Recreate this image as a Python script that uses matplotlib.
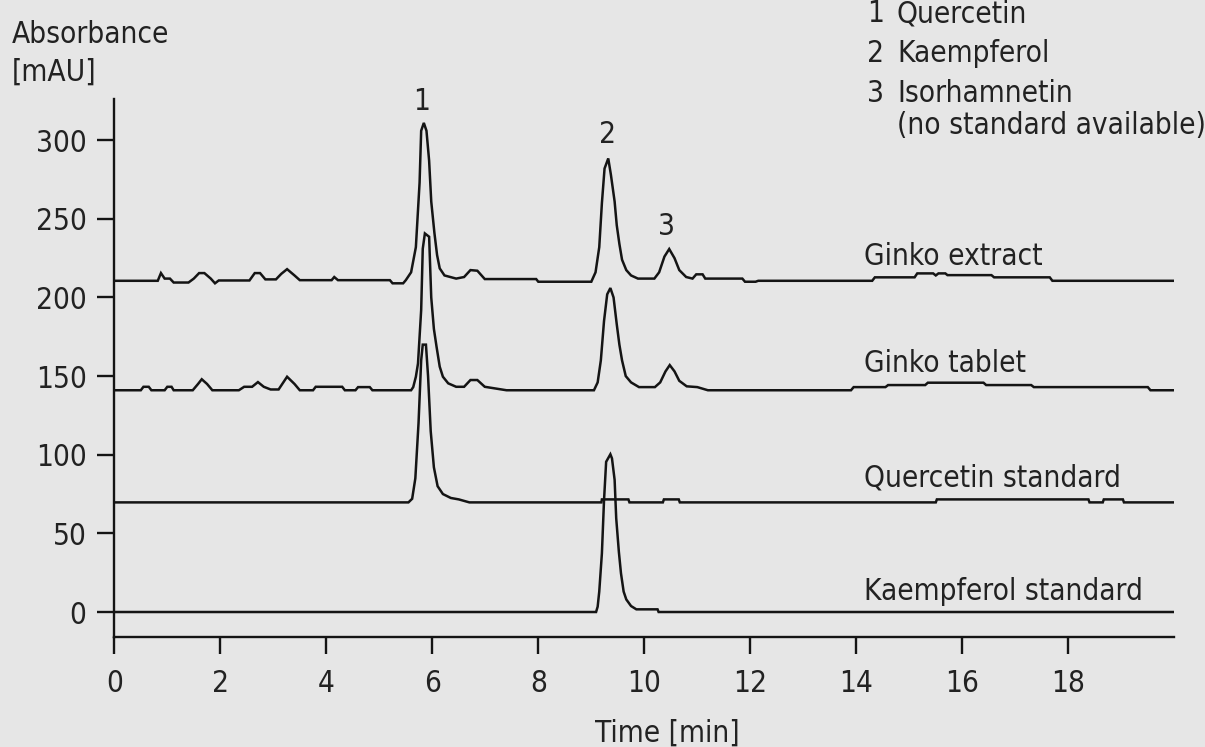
import matplotlib
matplotlib.use("Agg")
import matplotlib.pyplot as plt
from matplotlib import font_manager

# ---------------- data ----------------
ext_t = [0.0, 0.82, 0.88, 0.95, 1.05, 1.12, 1.40, 1.5, 1.6, 1.7, 1.82, 1.9, 1.97, 2.55, 2.65, 2.75,
         2.85, 3.05, 3.15, 3.26, 3.4, 3.5, 4.1, 4.15, 4.22, 5.2, 5.25, 5.45, 5.5, 5.6, 5.69, 5.76,
         5.79, 5.84, 5.89, 5.94, 5.98, 6.04, 6.09, 6.14, 6.23, 6.45, 6.6, 6.72, 6.85, 6.99, 7.96,
         8.0, 9.0, 9.08, 9.15, 9.2, 9.25, 9.32, 9.37, 9.44, 9.48, 9.53, 9.58, 9.66, 9.75, 9.88,
         10.19, 10.28, 10.38, 10.47, 10.57, 10.66, 10.79, 10.91, 10.98, 11.1, 11.15, 11.85, 11.9,
         12.1, 12.15, 14.3, 14.35, 15.1, 15.15, 15.45, 15.5, 15.55, 15.68, 15.72, 16.55, 16.6,
         17.65, 17.7, 20.0]
ext_v = [210.6, 210.6, 215.5, 212, 212, 209.5, 209.5, 212, 215.5, 215.5, 212, 209, 210.8, 210.8, 215.5, 215.5,
         211.5, 211.5, 215, 218, 214, 211, 211, 213, 211, 211, 209, 209, 211, 216, 232, 273,
         306, 311, 306, 287, 261, 241, 227, 218.5, 214, 212, 213, 217.4, 217, 211.7, 211.7,
         210, 210, 216, 232, 260, 282, 288.4, 278, 261, 246, 234, 224, 217.4, 214, 212,
         212, 216, 226, 230.8, 225, 217.4, 213, 212, 214.7, 214.7, 212, 212, 210,
         210, 210.6, 210.6, 212.8, 212.8, 215.3, 215.3, 214, 215.3, 215.3, 214.2, 214.2, 212.8,
         212.8, 210.6, 210.6]

tab_t = [0.0, 0.5, 0.55, 0.65, 0.7, 0.95, 1.0, 1.08, 1.12, 1.48, 1.58, 1.65, 1.75, 1.85, 2.35, 2.45,
         2.6, 2.71, 2.82, 2.95, 3.1, 3.26, 3.4, 3.5, 3.75, 3.8, 4.3, 4.35, 4.55, 4.6, 4.82, 4.87,
         5.6, 5.64, 5.69, 5.73, 5.79, 5.82, 5.86, 5.94, 5.98, 6.03, 6.08, 6.14, 6.2, 6.3, 6.45,
         6.6, 6.72, 6.85, 6.99, 7.4, 9.05, 9.12, 9.18, 9.24, 9.3, 9.36, 9.42, 9.48, 9.53, 9.58,
         9.65, 9.75, 9.9, 10.2, 10.3, 10.4, 10.48, 10.57, 10.66, 10.8, 11.0, 11.2, 13.9, 13.95,
         14.55, 14.6, 15.3, 15.35, 16.4, 16.45, 17.3, 17.35, 19.5, 19.55, 20.0]
tab_v = [141, 141, 143.2, 143.2, 141, 141, 143.2, 143.2, 141, 141, 145, 148, 145, 141, 141, 143.2,
         143.2, 146.2, 143.2, 141.5, 141.5, 149.6, 145, 141, 141, 143.2, 143.2, 141, 141, 143, 143, 141,
         141, 143, 149.6, 158, 192, 231, 240.7, 238.6, 200, 180, 168.7, 156, 149.6, 145.4, 143.2,
         143.2, 147.5, 147.5, 143.2, 141, 141, 146, 160, 185, 202, 206, 200, 183, 170, 160,
         150, 146, 143, 143, 146, 153, 157, 153, 147, 143.5, 143, 141, 141, 143,
         143, 144.3, 144.3, 145.8, 145.8, 144.3, 144.3, 143, 143, 141, 141]

qst_t = [0.0, 5.55, 5.62, 5.68, 5.74, 5.79, 5.82, 5.88, 5.92, 5.97, 6.03, 6.1, 6.2, 6.35, 6.5, 6.7,
         9.19, 9.2, 9.7, 9.72, 10.35, 10.37, 10.65, 10.67, 15.5, 15.52, 18.38, 18.4, 18.65, 18.67,
         19.03, 19.05, 20.0]
qst_v = [69.7, 69.7, 72, 85, 120, 160, 170, 170, 150, 115, 92, 80, 75, 72.5, 71.6, 69.7,
         69.7, 71.6, 71.6, 69.7, 69.7, 71.6, 71.6, 69.7, 69.7, 71.6, 71.6, 69.7, 69.7, 71.6,
         71.6, 69.7, 69.7]

kst_t = [0.0, 9.09, 9.12, 9.15, 9.2, 9.24, 9.28, 9.36, 9.39, 9.44, 9.47, 9.52, 9.56, 9.61, 9.66,
         9.75, 9.85, 10.25, 10.27, 20.0]
kst_v = [0, 0, 3.4, 13, 37.3, 71, 95.5, 100.3, 97.7, 84, 59.6, 38.3, 24.6, 13, 8,
         3.8, 1.7, 1.7, 0, 0]

trace_labels = ["Ginko extract", "Ginko tablet", "Quercetin standard", "Kaempferol standard"]
trace_label_y = [220.6, 152.8, 80.0, 7.6]
peak_labels = ["1", "2", "3"]
peak_label_t = [5.79, 9.31, 10.41]
peak_label_v = [324.9, 303.9, 245.4]
legend_nums = ["1", "2", "3", ""]
legend_texts = ["Quercetin", "Kaempferol", "Isorhamnetin", "(no standard available)"]
xticks = [0, 2, 4, 6, 8, 10, 12, 14, 16, 18]
yticks = [0, 50, 100, 150, 200, 250, 300]

# ---------------- font choice ----------------
entries = font_manager.fontManager.ttflist
names = {f.name for f in entries}
def has_condensed(name):
    return any(f.name == name and str(f.stretch) in ('condensed', 'semi-condensed', '500', '400', '300')
               and 'ondensed' in (f.fname or '') for f in entries)

if "Liberation Sans Narrow" in names:
    fam, stretch, FS = "Liberation Sans Narrow", 'normal', 23
elif has_condensed("DejaVu Sans"):
    fam, stretch, FS = "DejaVu Sans", 'condensed', 21.3
elif "Roboto Condensed" in names:
    fam, stretch, FS = "Roboto Condensed", 'normal', 23
elif "Roboto" in names:
    fam, stretch, FS = "Roboto", 'normal', 20
else:
    fam, stretch, FS = "DejaVu Sans", 'normal', 19

plt.rcParams['font.family'] = [fam, 'DejaVu Sans']
plt.rcParams['font.stretch'] = stretch

BG = '#e6e6e6'
INK = '#141414'
TXT = '#222222'

fig = plt.figure(figsize=(12.05, 7.47), dpi=100, facecolor=BG)
ax = fig.add_axes([114.3/1205, 1-636.7/747, (1174.3-114.3)/1205, (636.7-99.3)/747])
ax.set_facecolor(BG)

for t, v in [(ext_t, ext_v), (tab_t, tab_v), (qst_t, qst_v), (kst_t, kst_v)]:
    ax.plot(t, v, color=INK, lw=1.8, solid_joinstyle='miter')

ax.set_xlim(0, 20)
ax.set_ylim(-15.7, 326)
for s in ['top', 'right']:
    ax.spines[s].set_visible(False)
for s in ['left', 'bottom']:
    ax.spines[s].set_linewidth(1.7)
    ax.spines[s].set_color(INK)
ax.set_xticks(xticks)
ax.set_yticks(yticks)
ax.tick_params(axis='both', length=12, width=1.7, color=INK, labelsize=FS, labelcolor=TXT)
ax.tick_params(axis='x', pad=11)
ax.tick_params(axis='y', pad=8)

for lab, y in zip(trace_labels, trace_label_y):
    ax.text(14.15, y, lab, fontsize=FS, va='baseline', ha='left', color=TXT)
for lab, t, v in zip(peak_labels, peak_label_t, peak_label_v):
    ax.text(t, v, lab, fontsize=FS, va='center', ha='center', color=TXT, clip_on=False)

fig.text(12/1205, 1-43/747, "Absorbance", fontsize=FS, va='baseline', ha='left', color=TXT)
fig.text(12/1205, 1-81/747, "[mAU]", fontsize=FS, va='baseline', ha='left', color=TXT)
fig.text(667/1205, 1-742/747, "Time [min]", fontsize=FS, va='baseline', ha='center', color=TXT)

leg_base = [22, 62, 101.5, 134]
for num, txt, yb in zip(legend_nums, legend_texts, leg_base):
    if num:
        fig.text(867/1205, 1-yb/747, num, fontsize=FS, va='baseline', ha='left', color=TXT)
    fig.text(897/1205, 1-yb/747, txt, fontsize=FS, va='baseline', ha='left', color=TXT)

fig.savefig("out.png", dpi=100, facecolor=BG)
